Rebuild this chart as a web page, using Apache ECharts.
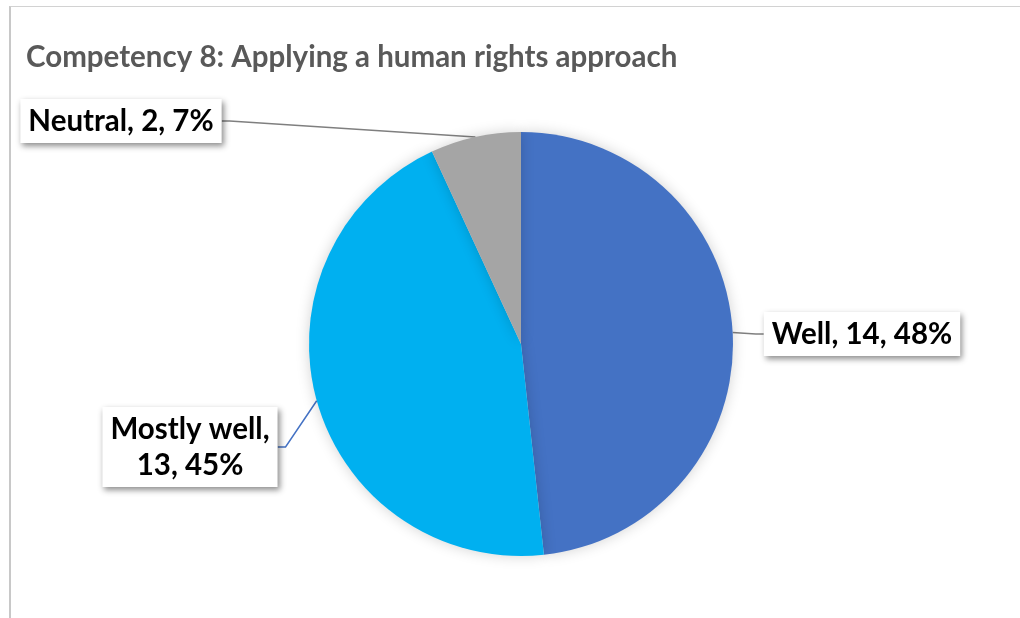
<!DOCTYPE html>
<html>
<head>
<meta charset="utf-8">
<style>
  html, body { margin: 0; padding: 0; background: #fff; }
  #frame {
    position: absolute; left: 9px; top: 6px; width: 1020px; height: 620px;
    border-left: 2px solid #c8c8c8; border-top: 1px solid #d2d2d2;
  }
  #chart { position: absolute; left: 0; top: 0; width: 1020px; height: 618px; }
</style>
<script src="https://cdn.jsdelivr.net/npm/echarts@6/dist/echarts.min.js"></script>
</head>
<body>
<div id="frame"></div>
<div id="chart"></div>
<script>
// 데이터
const categories = ['Well', 'Mostly well', 'Neutral'];
const counts = [14, 13, 2];
const sliceColors = ['#4472C4', '#00B0F0', '#A5A5A5'];
const lineColors = ['#7F7F7F', '#4472C4', '#7F7F7F'];

// 라벨 위치 (px)
const labelPos = [
    { x: 862, y: 334 },
    { x: 190, y: 447 },
    { x: 121, y: 121 }
];

const FONT = 'Lato, "Liberation Sans", sans-serif';

const chart = echarts.init(document.getElementById('chart'));

const seriesData = categories.map((name, i) => ({
    name: name,
    value: counts[i],
    itemStyle: { color: sliceColors[i] },
    labelLine: { lineStyle: { color: lineColors[i], width: 1.5 } }
}));

chart.setOption({
    animation: false,
    title: {
        text: 'Competency 8: Applying a human rights approach',
        left: 21,
        top: 37,
        textStyle: {
            fontFamily: FONT,
            fontWeight: 'bold',
            fontSize: 29.5,
            color: '#595959'
        }
    },
    series: [{
        type: 'pie',
        center: [521, 344],
        radius: [0, 212],
        startAngle: 90,
        clockwise: true,
        percentPrecision: 0,
        data: seriesData,
        itemStyle: {
            shadowBlur: 14,
            shadowColor: 'rgba(0,0,0,0.18)'
        },
        label: {
            show: true,
            position: 'outside',
            formatter: p => p.name === 'Mostly well'
                ? `${p.name},\n${p.value}, ${p.percent}%`
                : `${p.name}, ${p.value}, ${p.percent}%`,
            fontFamily: FONT,
            fontWeight: 'bold',
            fontSize: 29.5,
            lineHeight: 36,
            color: '#000',
            align: 'center',
            backgroundColor: '#fff',
            padding: [4, 8, 4, 8],
            shadowBlur: 6,
            shadowColor: 'rgba(0,0,0,0.45)',
            shadowOffsetX: 2,
            shadowOffsetY: 3
        },
        labelLine: { show: true, length: 12, length2: 8 },
        labelLayout: params => ({
            x: labelPos[params.dataIndex].x,
            y: labelPos[params.dataIndex].y,
            align: 'center',
            verticalAlign: 'middle',
            moveOverlap: false
        })
    }]
});
</script>
</body>
</html>
